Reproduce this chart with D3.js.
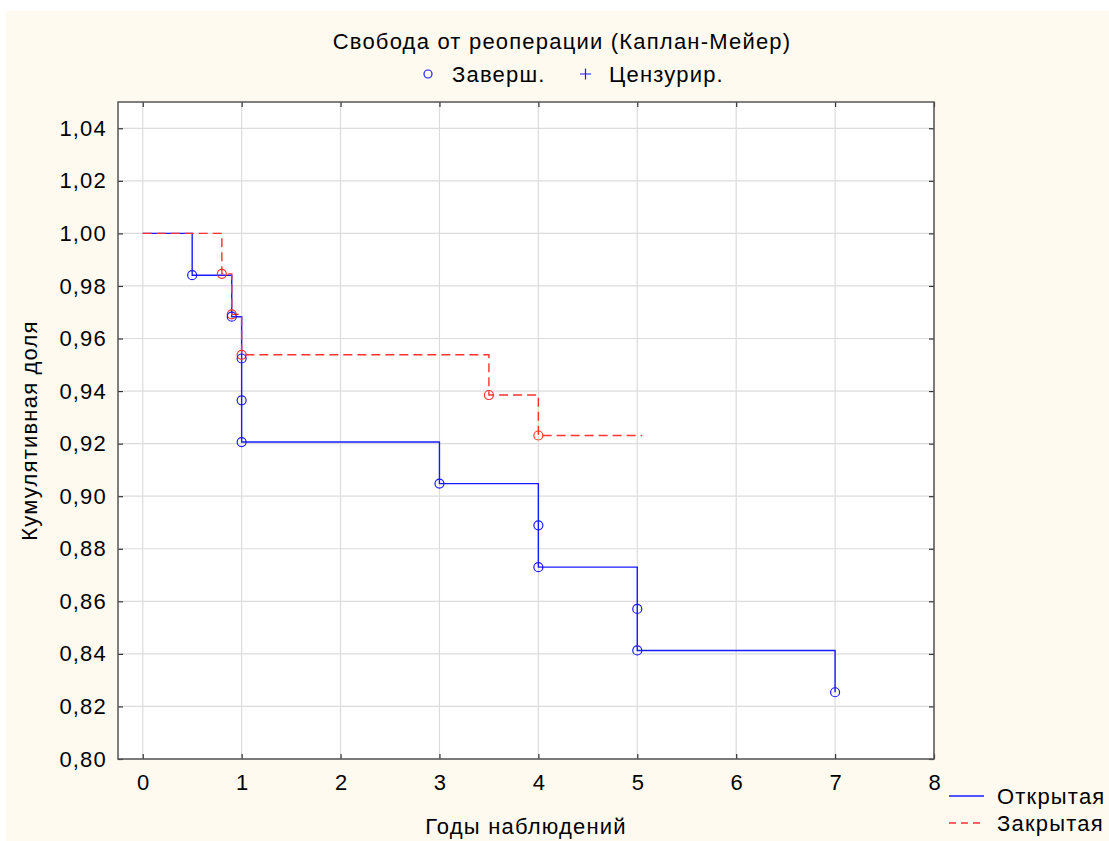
<!DOCTYPE html>
<html>
<head>
<meta charset="utf-8">
<script src="https://cdn.jsdelivr.net/npm/d3@7"></script>
<style>
  body { margin: 0; background: #ffffff; }
  svg text { font-family: "Liberation Sans", Arial, sans-serif; fill: #000; letter-spacing: 1.2px; }
</style>
</head>
<body>
<script>
'use strict';
// Kaplan-Meier data
var openTimes  = [0, 0.5, 0.9, 1.0, 1.0, 1.0, 3.0, 4.0, 4.0, 5.0, 5.0, 7.0];
var openValues = [1.0, 0.9841, 0.9683, 0.9524, 0.9365, 0.9206, 0.9048, 0.8889, 0.8730, 0.8571, 0.8413, 0.8254];
var closedTimes  = [0, 0.8, 0.9, 1.0, 3.5, 4.0];
var closedValues = [1.0, 0.9846, 0.9692, 0.9538, 0.9385, 0.9231];
var closedEnd = 5.05;
var xTicks = [0, 1, 2, 3, 4, 5, 6, 7, 8];
var yTicks = [0.80, 0.82, 0.84, 0.86, 0.88, 0.90, 0.92, 0.94, 0.96, 0.98, 1.00, 1.02, 1.04];
var seriesNames = ["Открытая", "Закрытая"];

var W = 1109, H = 841, FS = 22;
var pLeft = 118, pRight = 934, pTop = 102, pBottom = 759;

var svg = d3.select("body").append("svg")
    .attr("width", W).attr("height", H);

svg.append("rect").attr("x", 6).attr("y", 11)
    .attr("width", W - 6).attr("height", H - 11)
    .attr("fill", "#fffaf0");

var x = d3.scaleLinear().domain([-0.25, 8]).range([pLeft, pRight]);
var y = d3.scaleLinear().domain([0.80, 1.05]).range([pBottom, pTop]);

svg.append("rect").attr("x", pLeft).attr("y", pTop)
    .attr("width", pRight - pLeft).attr("height", pBottom - pTop)
    .attr("fill", "#fff");

// grid
var grid = svg.append("g").attr("stroke", "#dcdcdc").attr("stroke-width", 1.2);
xTicks.forEach(function(t) {
    grid.append("line").attr("x1", x(t)).attr("x2", x(t)).attr("y1", pTop).attr("y2", pBottom);
});
yTicks.forEach(function(t) {
    grid.append("line").attr("y1", y(t)).attr("y2", y(t)).attr("x1", pLeft).attr("x2", pRight);
});

var fmt = function(d) { return d3.format(".2f")(d).replace(".", ","); };

// axes with inward ticks
svg.append("g").attr("transform", "translate(0," + pBottom + ")")
    .call(d3.axisBottom(x).tickValues(xTicks).tickSizeInner(-5).tickSizeOuter(0).tickPadding(15))
    .call(g => g.select(".domain").remove())
    .selectAll("text").attr("font-size", FS).attr("dy", "0.71em").attr("dx", 0.6);
svg.append("g").attr("transform", "translate(0," + pTop + ")")
    .call(d3.axisTop(x).tickValues(xTicks).tickSizeInner(-5).tickSizeOuter(0).tickFormat(""))
    .call(g => g.select(".domain").remove());
svg.append("g").attr("transform", "translate(" + pLeft + ",0)")
    .call(d3.axisLeft(y).tickValues(yTicks).tickSizeInner(-5).tickSizeOuter(0).tickPadding(11).tickFormat(fmt))
    .call(g => g.select(".domain").remove())
    .selectAll("text").attr("font-size", FS);
svg.append("g").attr("transform", "translate(" + pRight + ",0)")
    .call(d3.axisRight(y).tickValues(yTicks).tickSizeInner(-5).tickSizeOuter(0).tickFormat(""))
    .call(g => g.select(".domain").remove());
svg.selectAll(".tick line").attr("stroke", "#333").attr("stroke-width", 1.2);

svg.append("rect").attr("x", pLeft).attr("y", pTop)
    .attr("width", pRight - pLeft).attr("height", pBottom - pTop)
    .attr("fill", "none").attr("stroke", "#555").attr("stroke-width", 1.5);

function stepPoints(times, values, end) {
    var pts = [];
    for (var i = 0; i < times.length; i++) {
        if (i > 0) pts.push([times[i], values[i - 1]]);
        pts.push([times[i], values[i]]);
    }
    if (end != null) pts.push([end, values[values.length - 1]]);
    return pts;
}
var line = d3.line().x(d => x(d[0])).y(d => y(d[1]));

svg.append("path").datum(stepPoints(openTimes, openValues, null))
    .attr("d", line).attr("fill", "none").attr("stroke", "#1a1aff").attr("stroke-width", 1.4);
svg.append("path").datum(stepPoints(closedTimes, closedValues, closedEnd))
    .attr("d", line).attr("fill", "none").attr("stroke", "#ff3030").attr("stroke-width", 1.4)
    .attr("stroke-dasharray", "9,5");

svg.append("g").selectAll("circle").data(closedTimes.slice(1))
    .join("circle")
    .attr("cx", d => x(d)).attr("cy", (d, i) => y(closedValues[i + 1]))
    .attr("r", 4.5).attr("fill", "none").attr("stroke", "#ff3030").attr("stroke-width", 1.2);
svg.append("g").selectAll("circle").data(openTimes.slice(1))
    .join("circle")
    .attr("cx", d => x(d)).attr("cy", (d, i) => y(openValues[i + 1]))
    .attr("r", 4.5).attr("fill", "none").attr("stroke", "#1a1aff").attr("stroke-width", 1.2);

// title and top legend
svg.append("text").attr("x", 562).attr("y", 49).attr("text-anchor", "middle")
    .attr("font-size", FS).text("Свобода от реоперации (Каплан-Мейер)");
svg.append("circle").attr("cx", 428).attr("cy", 74).attr("r", 4)
    .attr("fill", "none").attr("stroke", "#1a1aff").attr("stroke-width", 1.2);
svg.append("text").attr("x", 452).attr("y", 82).attr("font-size", FS).text("Заверш.");
svg.append("path").attr("d", "M580,74H591M585.5,68.5V79.5")
    .attr("stroke", "#1a1aff").attr("stroke-width", 1.2);
svg.append("text").attr("x", 609).attr("y", 82).attr("font-size", FS).text("Цензурир.");

// axis titles
svg.append("text").attr("x", (pLeft + pRight) / 2).attr("y", 834).attr("text-anchor", "middle")
    .attr("font-size", FS).text("Годы наблюдений");
svg.append("text").attr("transform", "translate(37," + ((pTop + pBottom) / 2) + ") rotate(-90)")
    .attr("text-anchor", "middle").attr("font-size", FS).text("Кумулятивная доля");

// series legend
var lg = svg.append("g");
seriesNames.forEach(function(name, i) {
    var yy = 796 + i * 27;
    lg.append("line").attr("x1", 949).attr("x2", 984).attr("y1", yy).attr("y2", yy)
        .attr("stroke", i === 0 ? "#1a1aff" : "#ff3030").attr("stroke-width", 1.3)
        .attr("stroke-dasharray", i === 0 ? null : "7,5");
    lg.append("text").attr("x", 997).attr("y", yy + 8).attr("font-size", FS).text(name);
});
</script>
</body>
</html>
